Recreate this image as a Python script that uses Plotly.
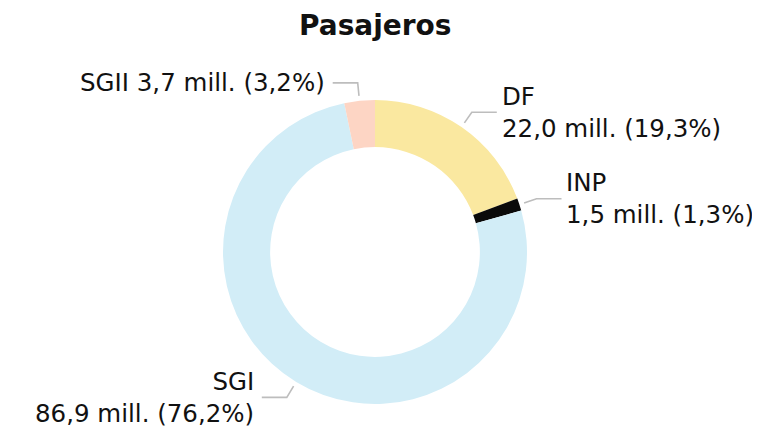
import math
import plotly.graph_objects as go

# ---- data ----
categories = ["DF", "INP", "SGI", "SGII"]
values_mill = [22.0, 1.5, 86.9, 3.7]
shares_pct = [19.3, 1.3, 76.2, 3.2]
colors = ["#FAE8A0", "#0A0A0A", "#D2EDF7", "#FDD5C4"]
title_text = "Pasajeros"

# ---- geometry (pixels, in the 760x434 window frame) ----
W, H = 760, 434
OFF = 8  # default page body margin
FW, FH = W - OFF, H - OFF
CX, CY, R = 375, 252, 152
FONT = "DejaVu Sans"
FS = 24.5

fig = go.Figure()
fig.add_trace(go.Pie(
    labels=categories,
    values=values_mill,
    sort=False,
    direction="clockwise",
    rotation=0,
    hole=0.69,
    textinfo="none",
    hoverinfo="label+value+percent",
    marker=dict(colors=colors, line=dict(width=0)),
    showlegend=False,
    domain=dict(x=[(CX - R - OFF) / FW, (CX + R - OFF) / FW],
                y=[1 - (CY + R - OFF) / FH, 1 - (CY - R - OFF) / FH]),
))

total = sum(values_mill)
cum = 0.0
shapes = []
annotations = []
for cat, v, p in zip(categories, values_mill, shares_pct):
    mid = (cum + v / 2) / total
    cum += v
    ang = 2 * math.pi * mid
    sx, sy = CX + 157 * math.sin(ang), CY - 157 * math.cos(ang)
    ex, ey = CX + 170 * math.sin(ang), CY - 170 * math.cos(ang)
    right = math.sin(ang) > 0
    hx = ex + 25 if right else ex - 25
    shapes.append(dict(type="path",
                       path=f"M {sx:.1f},{sy:.1f} L {ex:.1f},{ey:.1f} L {hx:.1f},{ey:.1f}",
                       xref="x", yref="y",
                       line=dict(color="#BDBDBD", width=1.6)))
    vtxt = f"{v:.1f}".replace(".", ",") + " mill. (" + f"{p:.1f}".replace(".", ",") + "%)"
    if cat == "SGII":
        text = f"{cat} {vtxt}"
    else:
        text = f"{cat}<br>{vtxt}"
    annotations.append(dict(
        x=hx + (3 if right else -6), y=ey, xref="x", yref="y",
        text=text, showarrow=False,
        xanchor="left" if right else "right", yanchor="middle",
        align="left" if right else "right",
        font=dict(family=FONT, size=FS, color="#111111"),
    ))

annotations.append(dict(
    x=CX, y=25, xref="x", yref="y", text=f"<b>{title_text}</b>",
    showarrow=False, xanchor="center", yanchor="middle",
    font=dict(family=FONT, size=28, color="#111111"),
))

fig.update_layout(
    width=FW, height=FH,
    margin=dict(l=0, r=0, t=0, b=0),
    paper_bgcolor="white", plot_bgcolor="rgba(0,0,0,0)",
    xaxis=dict(range=[OFF, W], visible=False, fixedrange=True),
    yaxis=dict(range=[H, OFF], visible=False, fixedrange=True),
    shapes=shapes,
    annotations=annotations,
)

fig.write_html("out.html")
